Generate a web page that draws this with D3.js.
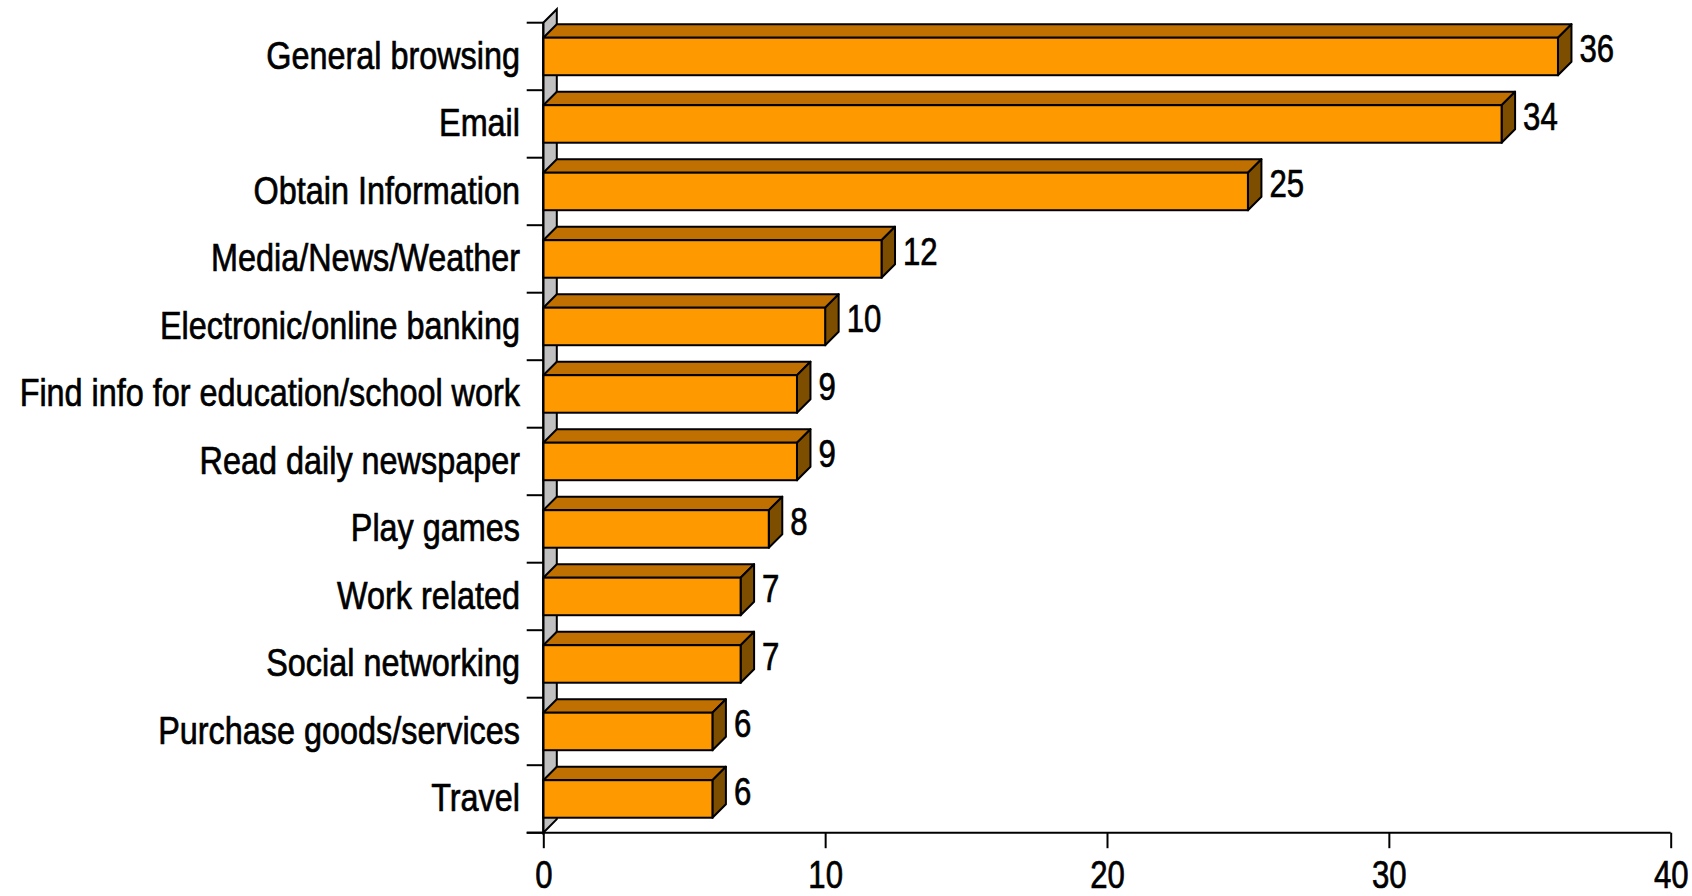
<!DOCTYPE html>
<html>
<head>
<meta charset="utf-8">
<script src="https://cdn.jsdelivr.net/npm/d3@7"></script>
<style>
  html, body { margin: 0; padding: 0; background: #ffffff; }
  svg { display: block; }
  text { font-family: "Liberation Sans", Arial, sans-serif; fill: #000; stroke: #000; stroke-width: 0.7px; }
</style>
</head>
<body>
<svg id="chart" width="1692" height="896"></svg>
<script>
// Internet activities (share, %)
const categories = [
  "General browsing",
  "Email",
  "Obtain Information",
  "Media/News/Weather",
  "Electronic/online banking",
  "Find info for education/school work",
  "Read daily newspaper",
  "Play games",
  "Work related",
  "Social networking",
  "Purchase goods/services",
  "Travel"
];
const values = [36, 34, 25, 12, 10, 9, 9, 8, 7, 7, 6, 6];
const xTicks = [0, 10, 20, 30, 40];

const svg = d3.select("#chart");
const plotLeft = 543.3, plotRight = 1670.7, plotTop = 22.7, plotBottom = 832.7;
const depth = 13.5;          // 3D extrusion offset (x right, y up)
const labelSize = 39.5, numberSize = 38;
const narrow = 0.82;         // horizontal squeeze for a narrow face

const x = d3.scaleLinear().domain([0, 40]).range([plotLeft, plotRight]);
const y = d3.scaleBand().domain(categories).range([plotTop, plotBottom])
  .paddingInner(0.444).paddingOuter(0.222);

const colFront = "#FF9900", colTop = "#C07000", colSide = "#7E4E00", colWall = "#C0C0C0";

// Side wall behind the category axis
svg.append("path")
  .attr("d", `M${plotLeft},${plotBottom} L${plotLeft + depth},${plotBottom - depth} L${plotLeft + depth},${plotTop - depth} L${plotLeft},${plotTop} Z`)
  .attr("fill", colWall).attr("stroke", "#000").attr("stroke-width", 2);

// Bars
const bars = svg.append("g").selectAll("g").data(categories).join("g");
bars.each(function (c, i) {
  const g = d3.select(this);
  const x0 = x(0), x1 = x(values[i]);
  const y0 = y(c), y1 = y(c) + y.bandwidth();
  // top face
  g.append("path")
    .attr("d", `M${x0},${y0} L${x0 + depth},${y0 - depth} L${x1 + depth},${y0 - depth} L${x1},${y0} Z`)
    .attr("fill", colTop).attr("stroke", "#000").attr("stroke-width", 2).attr("stroke-linejoin", "round");
  // side face
  g.append("path")
    .attr("d", `M${x1},${y0} L${x1 + depth},${y0 - depth} L${x1 + depth},${y1 - depth} L${x1},${y1} Z`)
    .attr("fill", colSide).attr("stroke", "#000").attr("stroke-width", 2).attr("stroke-linejoin", "round");
  // front face
  g.append("rect")
    .attr("x", x0).attr("y", y0).attr("width", x1 - x0).attr("height", y1 - y0)
    .attr("fill", colFront).attr("stroke", "#000").attr("stroke-width", 2);
  // value label
  g.append("text")
    .attr("transform", `translate(${x1 + depth + 8},${(y0 + y1) / 2 + 6}) scale(${narrow},1)`)
    .attr("font-size", numberSize)
    .text(values[i]);
});

// Category axis: line with tick marks at band boundaries
const axisG = svg.append("g");
axisG.append("line")
  .attr("x1", plotLeft).attr("x2", plotLeft).attr("y1", plotTop).attr("y2", plotBottom)
  .attr("stroke", "#000").attr("stroke-width", 2);
const boundaries = d3.range(categories.length + 1).map(i => plotTop + i * y.step());
axisG.selectAll("line.tick").data(boundaries).join("line")
  .attr("class", "tick")
  .attr("x1", plotLeft - 16.6).attr("x2", plotLeft).attr("y1", d => d).attr("y2", d => d)
  .attr("stroke", "#000").attr("stroke-width", 2);
axisG.selectAll("text").data(categories).join("text")
  .attr("transform", d => `translate(520,${y(d) + y.bandwidth() / 2 + 12.5}) scale(${narrow},1)`)
  .attr("text-anchor", "end")
  .attr("font-size", labelSize)
  .text(d => d);

// Value axis
const xAxis = d3.axisBottom(x).tickValues(xTicks).tickSize(15.5).tickPadding(13).tickSizeOuter(0);
const xg = svg.append("g").attr("transform", `translate(0,${plotBottom})`).call(xAxis);
xg.select(".domain").remove();
xg.append("line").attr("x1", plotLeft - 16.6).attr("x2", plotRight).attr("y1", 0).attr("y2", 0)
  .attr("stroke", "#000").attr("stroke-width", 2);
xg.selectAll(".tick line").attr("stroke", "#000").attr("stroke-width", 2);
xg.selectAll(".tick text")
  .attr("y", 55).attr("dy", null)
  .attr("transform", `scale(${narrow},1)`)
  .attr("font-size", numberSize)
  .attr("font-family", '"Liberation Sans", Arial, sans-serif')
  .attr("fill", "#000");
</script>
</body>
</html>
